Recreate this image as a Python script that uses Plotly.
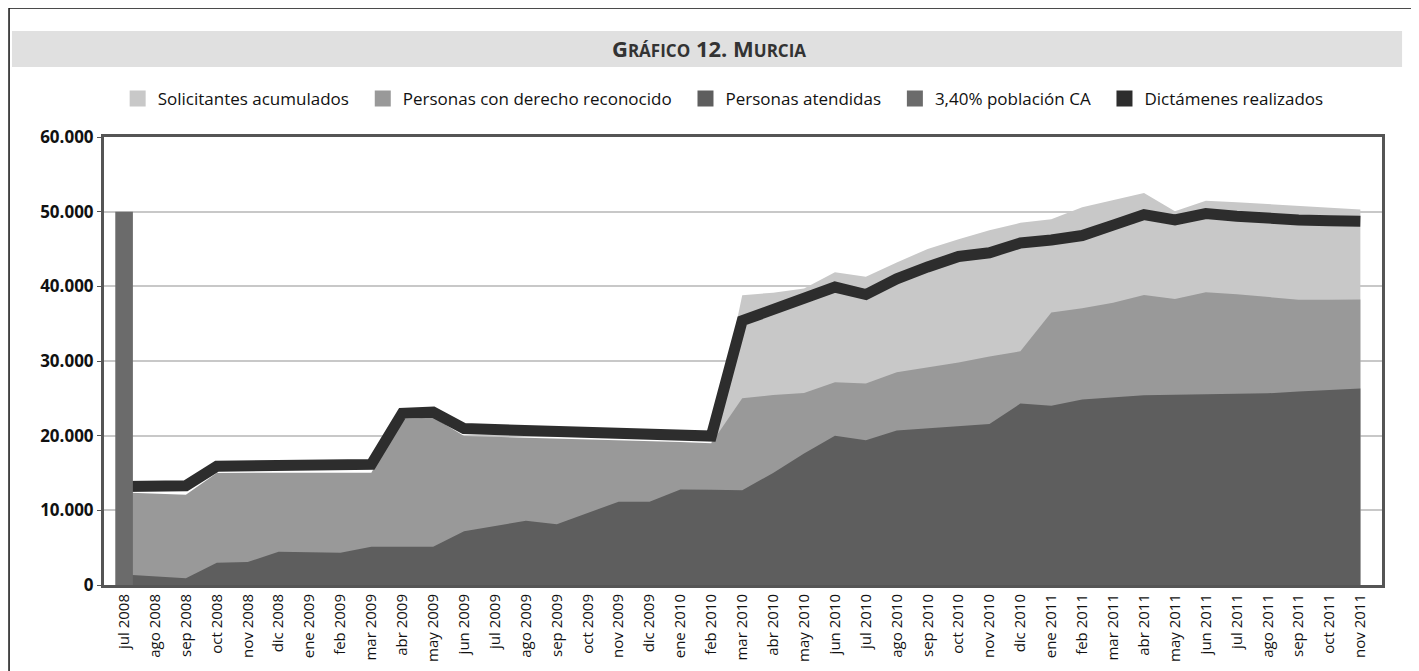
import plotly.graph_objects as go

meses = ["jul 2008", "ago 2008", "sep 2008", "oct 2008", "nov 2008", "dic 2008",
         "ene 2009", "feb 2009", "mar 2009", "abr 2009", "may 2009", "jun 2009",
         "jul 2009", "ago 2009", "sep 2009", "oct 2009", "nov 2009", "dic 2009",
         "ene 2010", "feb 2010", "mar 2010", "abr 2010", "may 2010", "jun 2010",
         "jul 2010", "ago 2010", "sep 2010", "oct 2010", "nov 2010", "dic 2010",
         "ene 2011", "feb 2011", "mar 2011", "abr 2011", "may 2011", "jun 2011",
         "jul 2011", "ago 2011", "sep 2011", "oct 2011", "nov 2011"]

# solicitantes acumulados: only shown from feb 2010 on
solicitantes_inicio = 19
solicitantes = [19000, 38800, 39150, 39700, 41900, 41300, 43200, 45000, 46300, 47500,
                48500, 49000, 50600, 51600, 52500, 50050, 51450, 51250, 51000, 50800,
                50550, 50300]

derecho = [12400, 12250, 12100, 15000, 15050, 15050, 15050, 15050, 15050, 22200,
           22450, 19950, 19850, 19750, 19600, 19500, 19400, 19300, 19150, 19000,
           25000, 25450, 25700, 27150, 27000, 28500, 29100, 29800, 30600, 31300,
           36500, 37050, 37800, 38850, 38300, 39200, 38950, 38600, 38200, 38200,
           38250]

atendidas = [1400, 1150, 900, 2990, 3080, 4460, 4380, 4330, 5130, 5130,
             5130, 7200, 7900, 8600, 8150, 9650, 11150, 11150, 12800, 12750,
             12700, 15000, 17600, 20000, 19400, 20700, 21000, 21250, 21550, 24300,
             24000, 24850, 25150, 25400, 25480, 25550, 25600, 25670, 25900, 26100,
             26330]

poblacion_ca = [50000]  # 3,40% población CA, only jul 2008

dictamenes = [13200, 13250, 13300, 15900, 15950, 16000, 16050, 16100, 16150, 23000,
              23150, 20950, 20800, 20700, 20550, 20450, 20350, 20250, 20100, 19950,
              35400, 36900, 38400, 39900, 38900, 41000, 42600, 44000, 44500, 45800,
              46200, 46800, 48200, 49600, 48900, 49750, 49400, 49050, 48900, 48800,
              48700]

nombres = ["Solicitantes acumulados", "Personas con derecho reconocido",
           "Personas atendidas", "3,40% población CA", "Dictámenes realizados"]
colores = ["#c8c8c8", "#999999", "#5e5e5e", "#6b6b6b", "#2d2d2d"]

idx = list(range(len(meses)))

fig = go.Figure()

fig.add_trace(go.Scatter(x=idx[solicitantes_inicio:], y=solicitantes, fill="tozeroy",
                         mode="lines", line=dict(width=0), fillcolor=colores[0],
                         showlegend=False))
fig.add_trace(go.Scatter(x=idx, y=derecho, fill="tozeroy", mode="lines",
                         line=dict(width=0), fillcolor=colores[1], showlegend=False))
fig.add_trace(go.Scatter(x=idx, y=atendidas, fill="tozeroy", mode="lines",
                         line=dict(width=0), fillcolor=colores[2], showlegend=False))
fig.add_trace(go.Scatter(x=idx, y=dictamenes, mode="lines",
                         line=dict(width=11, color=colores[4]), showlegend=False))
# bar on an overlaid axis so it sits above the areas
fig.add_trace(go.Bar(x=idx[:1], y=poblacion_ca, width=0.57, marker_color=colores[3],
                     marker_line_width=0, xaxis="x2", showlegend=False))

# legend entries with square swatches
for n, c in zip(nombres, colores):
    fig.add_trace(go.Scatter(x=[None], y=[None], mode="markers", name=n + "\u00a0\u00a0",
                             marker=dict(symbol="square", size=18, color=c)))

xr = [-0.65, 40.7]
# page has an 8px body margin, so figure pixels = page pixels - 8
fig.update_layout(
    width=1419, height=671,
    margin=dict(l=96, r=45, t=129, b=94),
    paper_bgcolor="white", plot_bgcolor="white",
    font=dict(family="Open Sans, sans-serif", color="#111"),
    title=dict(text="G<span style='font-size:17px'>RÁFICO</span> 12. M<span style='font-size:17px'>URCIA</span>",
               x=(709 - 8) / 1419, xanchor="center", xref="container",
               y=1 - 41 / 671, yanchor="middle",
               font=dict(size=22, color="#333", weight="bold")),
    legend=dict(orientation="h", x=0.488, xanchor="center", xref="paper",
                y=1.085, yanchor="middle", font=dict(size=17, color="#111"),
                bgcolor="rgba(0,0,0,0)"),
    xaxis=dict(range=xr, tickmode="array", tickvals=idx, ticktext=meses,
               tickangle=-90, tickfont=dict(size=15, color="#111"),
               showgrid=False, showline=True, linecolor="#555", linewidth=3,
               mirror=True, ticks="", zeroline=False),
    xaxis2=dict(range=xr, overlaying="x", visible=False),
    yaxis=dict(range=[0, 60000], tickvals=[0, 10000, 20000, 30000, 40000, 50000, 60000],
               ticktext=["0", "10.000", "20.000", "30.000", "40.000", "50.000", "60.000"],
               tickfont=dict(size=17, color="#111", weight="bold"),
               showgrid=True, gridcolor="#c8c8c8", gridwidth=2,
               showline=True, linecolor="#555", linewidth=3, mirror=True,
               ticks="outside", ticklen=4, tickcolor="#555", zeroline=False),
    shapes=[
        dict(type="rect", xref="paper", yref="paper", x0=-0.072, x1=1.0157,
             y0=1.1563, y1=1.2366, fillcolor="#e0e0e0", line=dict(width=0), layer="below"),
        dict(type="rect", xref="paper", yref="paper", x0=-0.0743, x1=1.0243,
             y0=-0.25, y1=1.288, fillcolor="rgba(0,0,0,0)",
             line=dict(color="#111", width=1.5)),
    ],
)

fig.write_html("out.html")
